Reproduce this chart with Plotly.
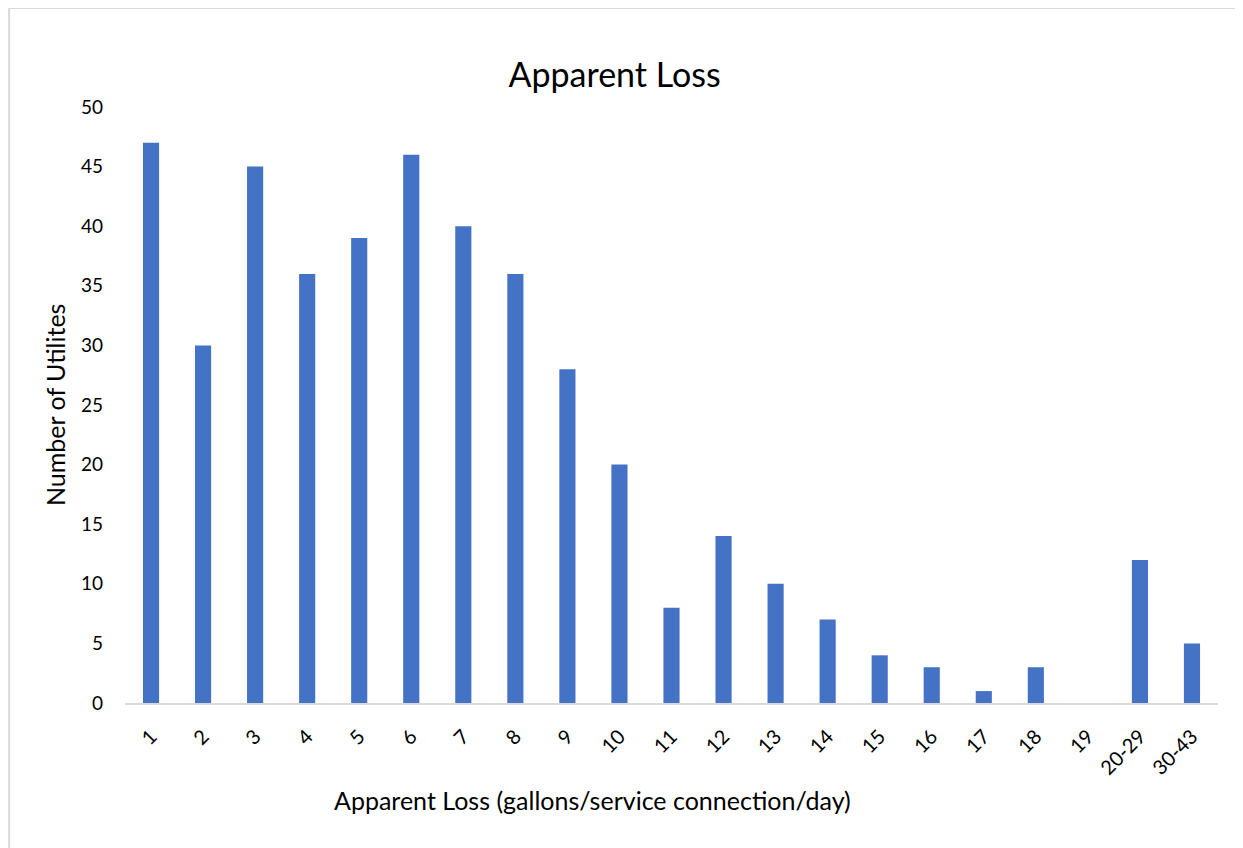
import plotly.graph_objects as go

# Apparent loss bins and number of utilities
categories = ["1", "2", "3", "4", "5", "6", "7", "8", "9", "10", "11", "12",
              "13", "14", "15", "16", "17", "18", "19", "20-29", "30-43"]
utilities = [47, 30, 45, 36, 39, 46, 40, 36, 28, 20, 8, 14,
             10, 7, 4, 3, 1, 3, 0, 12, 5]
y_ticks = [0, 5, 10, 15, 20, 25, 30, 35, 40, 45, 50]

FONT = "Lato, Calibri, sans-serif"
BORDER = "#D9D9D9"

fig = go.Figure(go.Bar(
    x=categories,
    y=utilities,
    marker=dict(color="#4472C4", line=dict(width=0)),
))

fig.update_layout(
    width=1243,
    height=848,
    paper_bgcolor="white",
    plot_bgcolor="white",
    font=dict(family=FONT, color="#000000", size=20),
    title=dict(text="Apparent Loss", x=0.488, xanchor="center", y=0.921,
               yanchor="middle", font=dict(size=34, family=FONT)),
    margin=dict(l=117, r=33, t=99, b=153),
    bargap=0.69,
    showlegend=False,
    xaxis=dict(
        type="category",
        showline=True, linecolor=BORDER, linewidth=2,
        showgrid=False, ticks="", tickangle=-45,
        ticklabelstandoff=12,
        tickfont=dict(size=20),
    ),
    yaxis=dict(
        range=[0, 50], tickvals=y_ticks,
        showline=False, showgrid=False, zeroline=False, ticks="",
        ticklabelstandoff=21,
        tickfont=dict(size=19),
    ),
    annotations=[
        dict(text="Apparent Loss (gallons/service connection/day)",
             xref="paper", yref="paper", x=0.428, y=-0.1628,
             xanchor="center", yanchor="middle", showarrow=False,
             font=dict(size=25)),
        dict(text="Number of Utilites",
             xref="paper", yref="paper", x=-0.064, y=0.5,
             xanchor="center", yanchor="middle", showarrow=False,
             textangle=-90, font=dict(size=25)),
    ],
    shapes=[
        dict(type="line", xref="paper", yref="paper",
             x0=-0.106, x1=1.05, y0=1.166, y1=1.166,
             line=dict(color=BORDER, width=2)),
        dict(type="line", xref="paper", yref="paper",
             x0=-0.106, x1=-0.106, y0=-0.3, y1=1.166,
             line=dict(color=BORDER, width=2)),
    ],
)

fig.write_html("out.html")
